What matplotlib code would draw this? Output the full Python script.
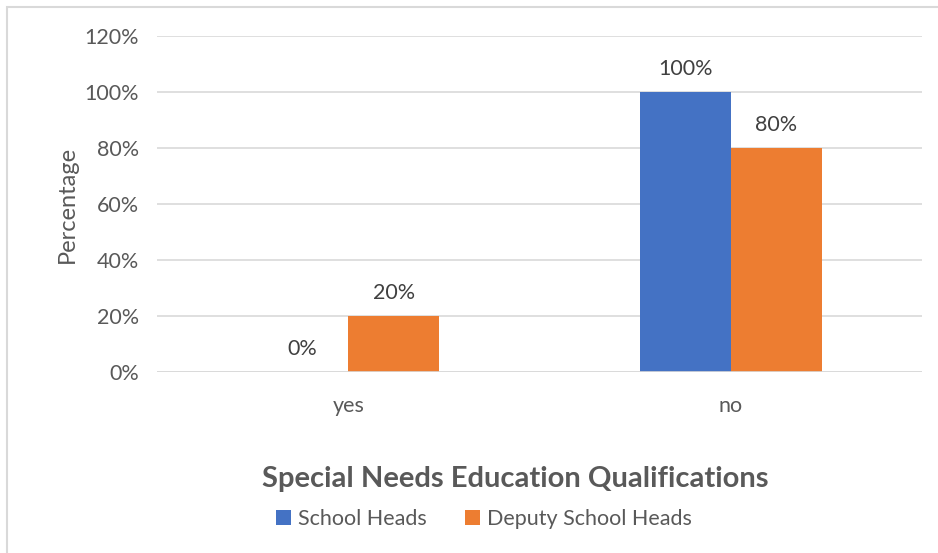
import matplotlib.pyplot as plt
from matplotlib.patches import Rectangle
import numpy as np

categories = ["yes", "no"]
school_heads = [0, 100]
deputy_heads = [20, 80]
yticks = [0, 20, 40, 60, 80, 100, 120]

plt.rcParams['font.family'] = ['Lato', 'DejaVu Sans']
txt = "#595959"

W, H = 938, 553
fig = plt.figure(figsize=(W / 100, H / 100), dpi=100)
# outer chart frame (runs off the right and bottom edges)
fig.patches.append(Rectangle((7 / W, -0.01), 1.02, 1 - 7 / H + 0.01, transform=fig.transFigure,
                             fill=False, edgecolor="#d9d9d9", lw=1.5))

ax = fig.add_axes([157 / W, 1 - 372 / H, (922 - 157) / W, (372 - 36) / H])
x = np.arange(len(categories))
bw = 0.238
b1 = ax.bar(x - bw / 2, school_heads, bw, color="#4472C4", label="School Heads", zorder=3)
b2 = ax.bar(x + bw / 2, deputy_heads, bw, color="#ED7D31", label="Deputy School Heads", zorder=3)

for bars, vals in ((b1, school_heads), (b2, deputy_heads)):
    for b, v in zip(bars, vals):
        ax.text(b.get_x() + b.get_width() / 2, v + 4.5, f"{v}%", ha="center", va="bottom",
                fontsize=15.5, color="#404040")

ax.set_xlim(-0.5, 1.5)
ax.set_ylim(0, 120)
ax.set_yticks(yticks)
ax.set_yticklabels([f"{t}%" for t in yticks])
ax.set_xticks(x)
ax.set_xticklabels(categories)
ax.tick_params(length=0, labelsize=15.5, colors=txt, pad=13)
ax.tick_params(axis="x", pad=17)
ax.yaxis.grid(True, color="#d9d9d9", lw=1.2, zorder=0)
for s in ax.spines.values():
    s.set_visible(False)
ax.axhline(0, color="#d9d9d9", lw=1.2, zorder=4)
ax.set_ylabel("Percentage", fontsize=17, color=txt, labelpad=5)

fig.text(515 / W, 1 - 479 / H, "Special Needs Education Qualifications",
         ha="center", va="center", fontsize=21, fontweight="bold", color=txt)
fig.legend(handles=[b1, b2], loc="center", bbox_to_anchor=(484 / W, 1 - 519 / H), ncol=2,
           frameon=False, fontsize=15.5, labelcolor=txt, handlelength=0.7, handleheight=0.7,
           handletextpad=0.3, columnspacing=1.8)

fig.savefig("out.png", dpi=100)
